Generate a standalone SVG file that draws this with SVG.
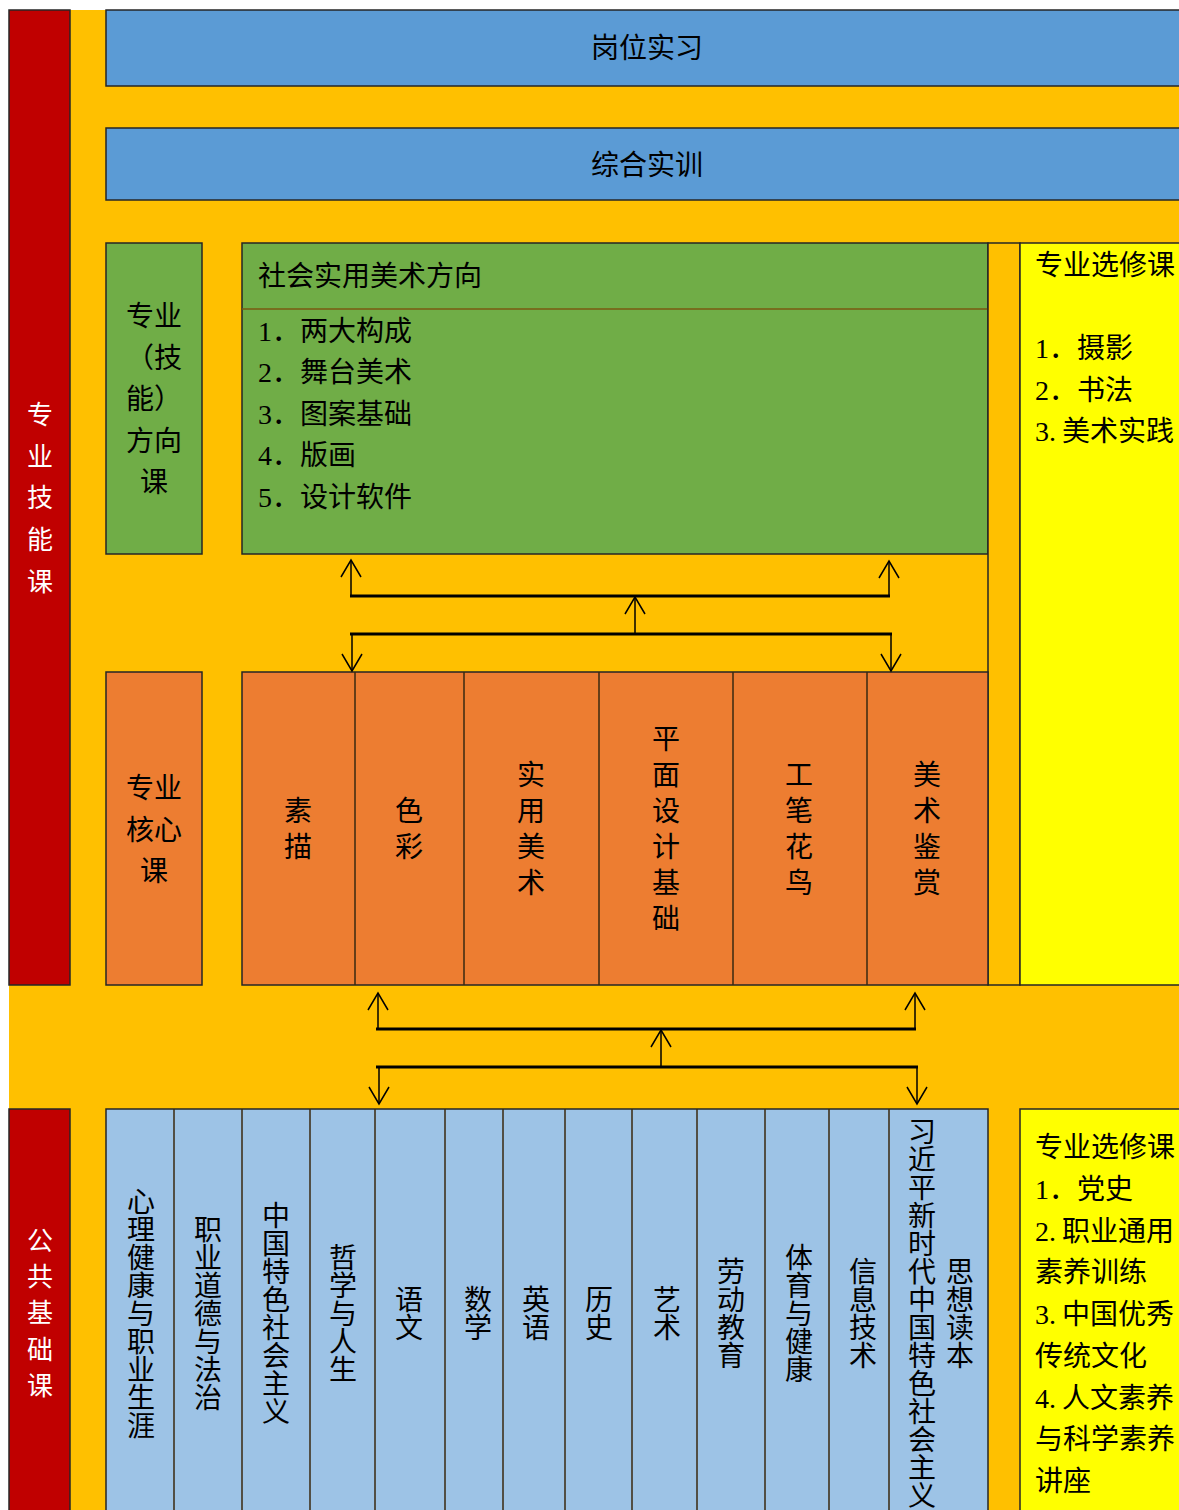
<svg xmlns="http://www.w3.org/2000/svg" width="1179" height="1510" viewBox="0 0 1179 1510">
<style>
.t{font-family:"Liberation Serif","Noto Sans CJK SC",serif;font-size:28px;fill:#000;dominant-baseline:central}
.c{text-anchor:middle}
.w{fill:#fff;font-size:26px}
.bx{stroke:#262626;stroke-width:1.5}
.dv{stroke:#3a2a10;stroke-width:1.5;fill:none}
.ln{stroke:#000;stroke-width:1.5;fill:none}
.hl{stroke:#000;stroke-width:3;fill:none}
</style>
<defs>
<marker id="ah" viewBox="-1 -11 20 22" refX="17" refY="0" markerWidth="20" markerHeight="22" markerUnits="userSpaceOnUse" orient="auto">
<path d="M0,-10 L17,0 L0,10" fill="none" stroke="#000" stroke-width="1.5"/>
</marker>
</defs>
<rect x="0" y="0" width="1179" height="1510" fill="#fff"/>
<rect id="bg" x="9" y="10" width="1171" height="1501" fill="#FFC000"/>

<g id="side-top">
<rect class="bx" x="9" y="10" width="61" height="975" fill="#C00000"/>
<text class="t c w" x="40"><tspan x="40" y="415">专</tspan><tspan x="40" y="457">业</tspan><tspan x="40" y="498">技</tspan><tspan x="40" y="540">能</tspan><tspan x="40" y="582">课</tspan></text>
</g>
<g id="side-bottom">
<rect class="bx" x="9" y="1109" width="61" height="402" fill="#C00000"/>
<text class="t c w" x="40"><tspan x="40" y="1241">公</tspan><tspan x="40" y="1277">共</tspan><tspan x="40" y="1313">基</tspan><tspan x="40" y="1350">础</tspan><tspan x="40" y="1386">课</tspan></text>
</g>

<g id="gangwei">
<rect class="bx" x="106" y="10" width="1080" height="76" fill="#5B9BD5"/>
<text class="t c" x="647" y="48">岗位实习</text>
</g>
<g id="zonghe">
<rect class="bx" x="106" y="128" width="1080" height="72" fill="#5B9BD5"/>
<text class="t c" x="647" y="165">综合实训</text>
</g>

<g id="fangxiang-label">
<rect class="bx" x="106" y="243" width="96" height="311" fill="#70AD47"/>
<text class="t c" x="154"><tspan x="154" y="316">专业</tspan><tspan x="154" y="358">（技</tspan><tspan x="154" y="399">能）</tspan><tspan x="154" y="441">方向</tspan><tspan x="154" y="482">课</tspan></text>
</g>
<g id="fangxiang">
<rect class="bx" x="242" y="243" width="746" height="311" fill="#70AD47"/>
<line x1="242" y1="309" x2="988" y2="309" stroke="#7a5a10" stroke-width="1.5"/>
<text class="t" x="258" y="276">社会实用美术方向</text>
<text class="t" x="258" y="331">1．两大构成</text>
<text class="t" x="258" y="372">2．舞台美术</text>
<text class="t" x="258" y="414">3．图案基础</text>
<text class="t" x="258" y="455">4．版画</text>
<text class="t" x="258" y="497">5．设计软件</text>
</g>
<rect class="bx" x="988" y="243" width="32" height="742" fill="#FFC000"/>
<g id="xuanxiu-top">
<rect class="bx" x="1020" y="243" width="170" height="742" fill="#FFFF00"/>
<text class="t" x="1035" y="265">专业选修课</text>
<text class="t" x="1035" y="348">1．摄影</text>
<text class="t" x="1035" y="390">2．书法</text>
<text class="t" x="1035" y="431">3.<tspan dx="6">美术实践</tspan></text>
</g>

<g id="hexin-label">
<rect class="bx" x="106" y="672" width="96" height="313" fill="#ED7D31"/>
<text class="t c" x="154"><tspan x="154" y="788">专业</tspan><tspan x="154" y="830">核心</tspan><tspan x="154" y="871">课</tspan></text>
</g>
<g id="hexin">
<rect class="bx" x="242" y="672" width="746" height="313" fill="#ED7D31"/>
<path class="dv" d="M355,672V985M464,672V985M599,672V985M733,672V985M867,672V985"/>
<text class="t c" x="298"><tspan x="298" y="811">素</tspan><tspan x="298" y="847">描</tspan></text>
<text class="t c" x="409"><tspan x="409" y="811">色</tspan><tspan x="409" y="847">彩</tspan></text>
<text class="t c" x="531"><tspan x="531" y="775">实</tspan><tspan x="531" y="811">用</tspan><tspan x="531" y="847">美</tspan><tspan x="531" y="883">术</tspan></text>
<text class="t c" x="666"><tspan x="666" y="739">平</tspan><tspan x="666" y="775">面</tspan><tspan x="666" y="811">设</tspan><tspan x="666" y="847">计</tspan><tspan x="666" y="883">基</tspan><tspan x="666" y="919">础</tspan></text>
<text class="t c" x="799"><tspan x="799" y="775">工</tspan><tspan x="799" y="811">笔</tspan><tspan x="799" y="847">花</tspan><tspan x="799" y="883">鸟</tspan></text>
<text class="t c" x="927"><tspan x="927" y="775">美</tspan><tspan x="927" y="811">术</tspan><tspan x="927" y="847">鉴</tspan><tspan x="927" y="883">赏</tspan></text>
</g>

<g id="gonggong">
<rect class="bx" x="106" y="1109" width="882" height="410" fill="#9DC3E6"/>
<path class="dv" d="M174,1109V1510M242,1109V1510M310,1109V1510M375,1109V1510M445,1109V1510M503,1109V1510M565,1109V1510M632,1109V1510M697,1109V1510M765,1109V1510M829,1109V1510M889,1109V1510"/>
<text class="t c" x="141"><tspan x="141" y="1202">心</tspan><tspan x="141" y="1230">理</tspan><tspan x="141" y="1258">健</tspan><tspan x="141" y="1286">康</tspan><tspan x="141" y="1314">与</tspan><tspan x="141" y="1342">职</tspan><tspan x="141" y="1370">业</tspan><tspan x="141" y="1398">生</tspan><tspan x="141" y="1426">涯</tspan></text>
<text class="t c" x="208"><tspan x="208" y="1230">职</tspan><tspan x="208" y="1258">业</tspan><tspan x="208" y="1286">道</tspan><tspan x="208" y="1314">德</tspan><tspan x="208" y="1342">与</tspan><tspan x="208" y="1370">法</tspan><tspan x="208" y="1398">治</tspan></text>
<text class="t c" x="276"><tspan x="276" y="1216">中</tspan><tspan x="276" y="1244">国</tspan><tspan x="276" y="1272">特</tspan><tspan x="276" y="1300">色</tspan><tspan x="276" y="1328">社</tspan><tspan x="276" y="1356">会</tspan><tspan x="276" y="1384">主</tspan><tspan x="276" y="1412">义</tspan></text>
<text class="t c" x="343"><tspan x="343" y="1258">哲</tspan><tspan x="343" y="1286">学</tspan><tspan x="343" y="1314">与</tspan><tspan x="343" y="1342">人</tspan><tspan x="343" y="1370">生</tspan></text>
<text class="t c" x="409"><tspan x="409" y="1300">语</tspan><tspan x="409" y="1328">文</tspan></text>
<text class="t c" x="478"><tspan x="478" y="1300">数</tspan><tspan x="478" y="1328">学</tspan></text>
<text class="t c" x="536"><tspan x="536" y="1300">英</tspan><tspan x="536" y="1328">语</tspan></text>
<text class="t c" x="599"><tspan x="599" y="1300">历</tspan><tspan x="599" y="1328">史</tspan></text>
<text class="t c" x="667"><tspan x="667" y="1300">艺</tspan><tspan x="667" y="1328">术</tspan></text>
<text class="t c" x="731"><tspan x="731" y="1272">劳</tspan><tspan x="731" y="1300">动</tspan><tspan x="731" y="1328">教</tspan><tspan x="731" y="1356">育</tspan></text>
<text class="t c" x="799"><tspan x="799" y="1258">体</tspan><tspan x="799" y="1286">育</tspan><tspan x="799" y="1314">与</tspan><tspan x="799" y="1342">健</tspan><tspan x="799" y="1370">康</tspan></text>
<text class="t c" x="863"><tspan x="863" y="1272">信</tspan><tspan x="863" y="1300">息</tspan><tspan x="863" y="1328">技</tspan><tspan x="863" y="1356">术</tspan></text>
<text class="t c" x="922"><tspan x="922" y="1132">习</tspan><tspan x="922" y="1160">近</tspan><tspan x="922" y="1188">平</tspan><tspan x="922" y="1216">新</tspan><tspan x="922" y="1244">时</tspan><tspan x="922" y="1272">代</tspan><tspan x="922" y="1300">中</tspan><tspan x="922" y="1328">国</tspan><tspan x="922" y="1356">特</tspan><tspan x="922" y="1384">色</tspan><tspan x="922" y="1412">社</tspan><tspan x="922" y="1440">会</tspan><tspan x="922" y="1468">主</tspan><tspan x="922" y="1496">义</tspan></text>
<text class="t c" x="960"><tspan x="960" y="1272">思</tspan><tspan x="960" y="1300">想</tspan><tspan x="960" y="1328">读</tspan><tspan x="960" y="1356">本</tspan></text>
</g>

<g id="xuanxiu-bottom">
<rect class="bx" x="1020" y="1109" width="170" height="410" fill="#FFFF00"/>
<text class="t" x="1035" y="1147">专业选修课</text>
<text class="t" x="1035" y="1189">1．党史</text>
<text class="t" x="1035" y="1231">2.<tspan dx="6">职业通用</tspan></text>
<text class="t" x="1035" y="1272">素养训练</text>
<text class="t" x="1035" y="1314">3.<tspan dx="6">中国优秀</tspan></text>
<text class="t" x="1035" y="1356">传统文化</text>
<text class="t" x="1035" y="1398">4.<tspan dx="6">人文素养</tspan></text>
<text class="t" x="1035" y="1439">与科学素养</text>
<text class="t" x="1035" y="1481">讲座</text>
</g>

<g id="connectors">
<path class="hl" d="M350,596H890"/>
<path class="hl" d="M350,634H892"/>
<path class="ln" d="M351,596V560" marker-end="url(#ah)"/>
<path class="ln" d="M889,596V561" marker-end="url(#ah)"/>
<path class="ln" d="M635,634V597" marker-end="url(#ah)"/>
<path class="ln" d="M352,634V671" marker-end="url(#ah)"/>
<path class="ln" d="M891,634V671" marker-end="url(#ah)"/>
<path class="hl" d="M376,1029H916"/>
<path class="hl" d="M376,1067H918"/>
<path class="ln" d="M378,1029V993" marker-end="url(#ah)"/>
<path class="ln" d="M915,1029V993" marker-end="url(#ah)"/>
<path class="ln" d="M661,1067V1030" marker-end="url(#ah)"/>
<path class="ln" d="M379,1067V1104" marker-end="url(#ah)"/>
<path class="ln" d="M917,1067V1104" marker-end="url(#ah)"/>
</g>
</svg>
